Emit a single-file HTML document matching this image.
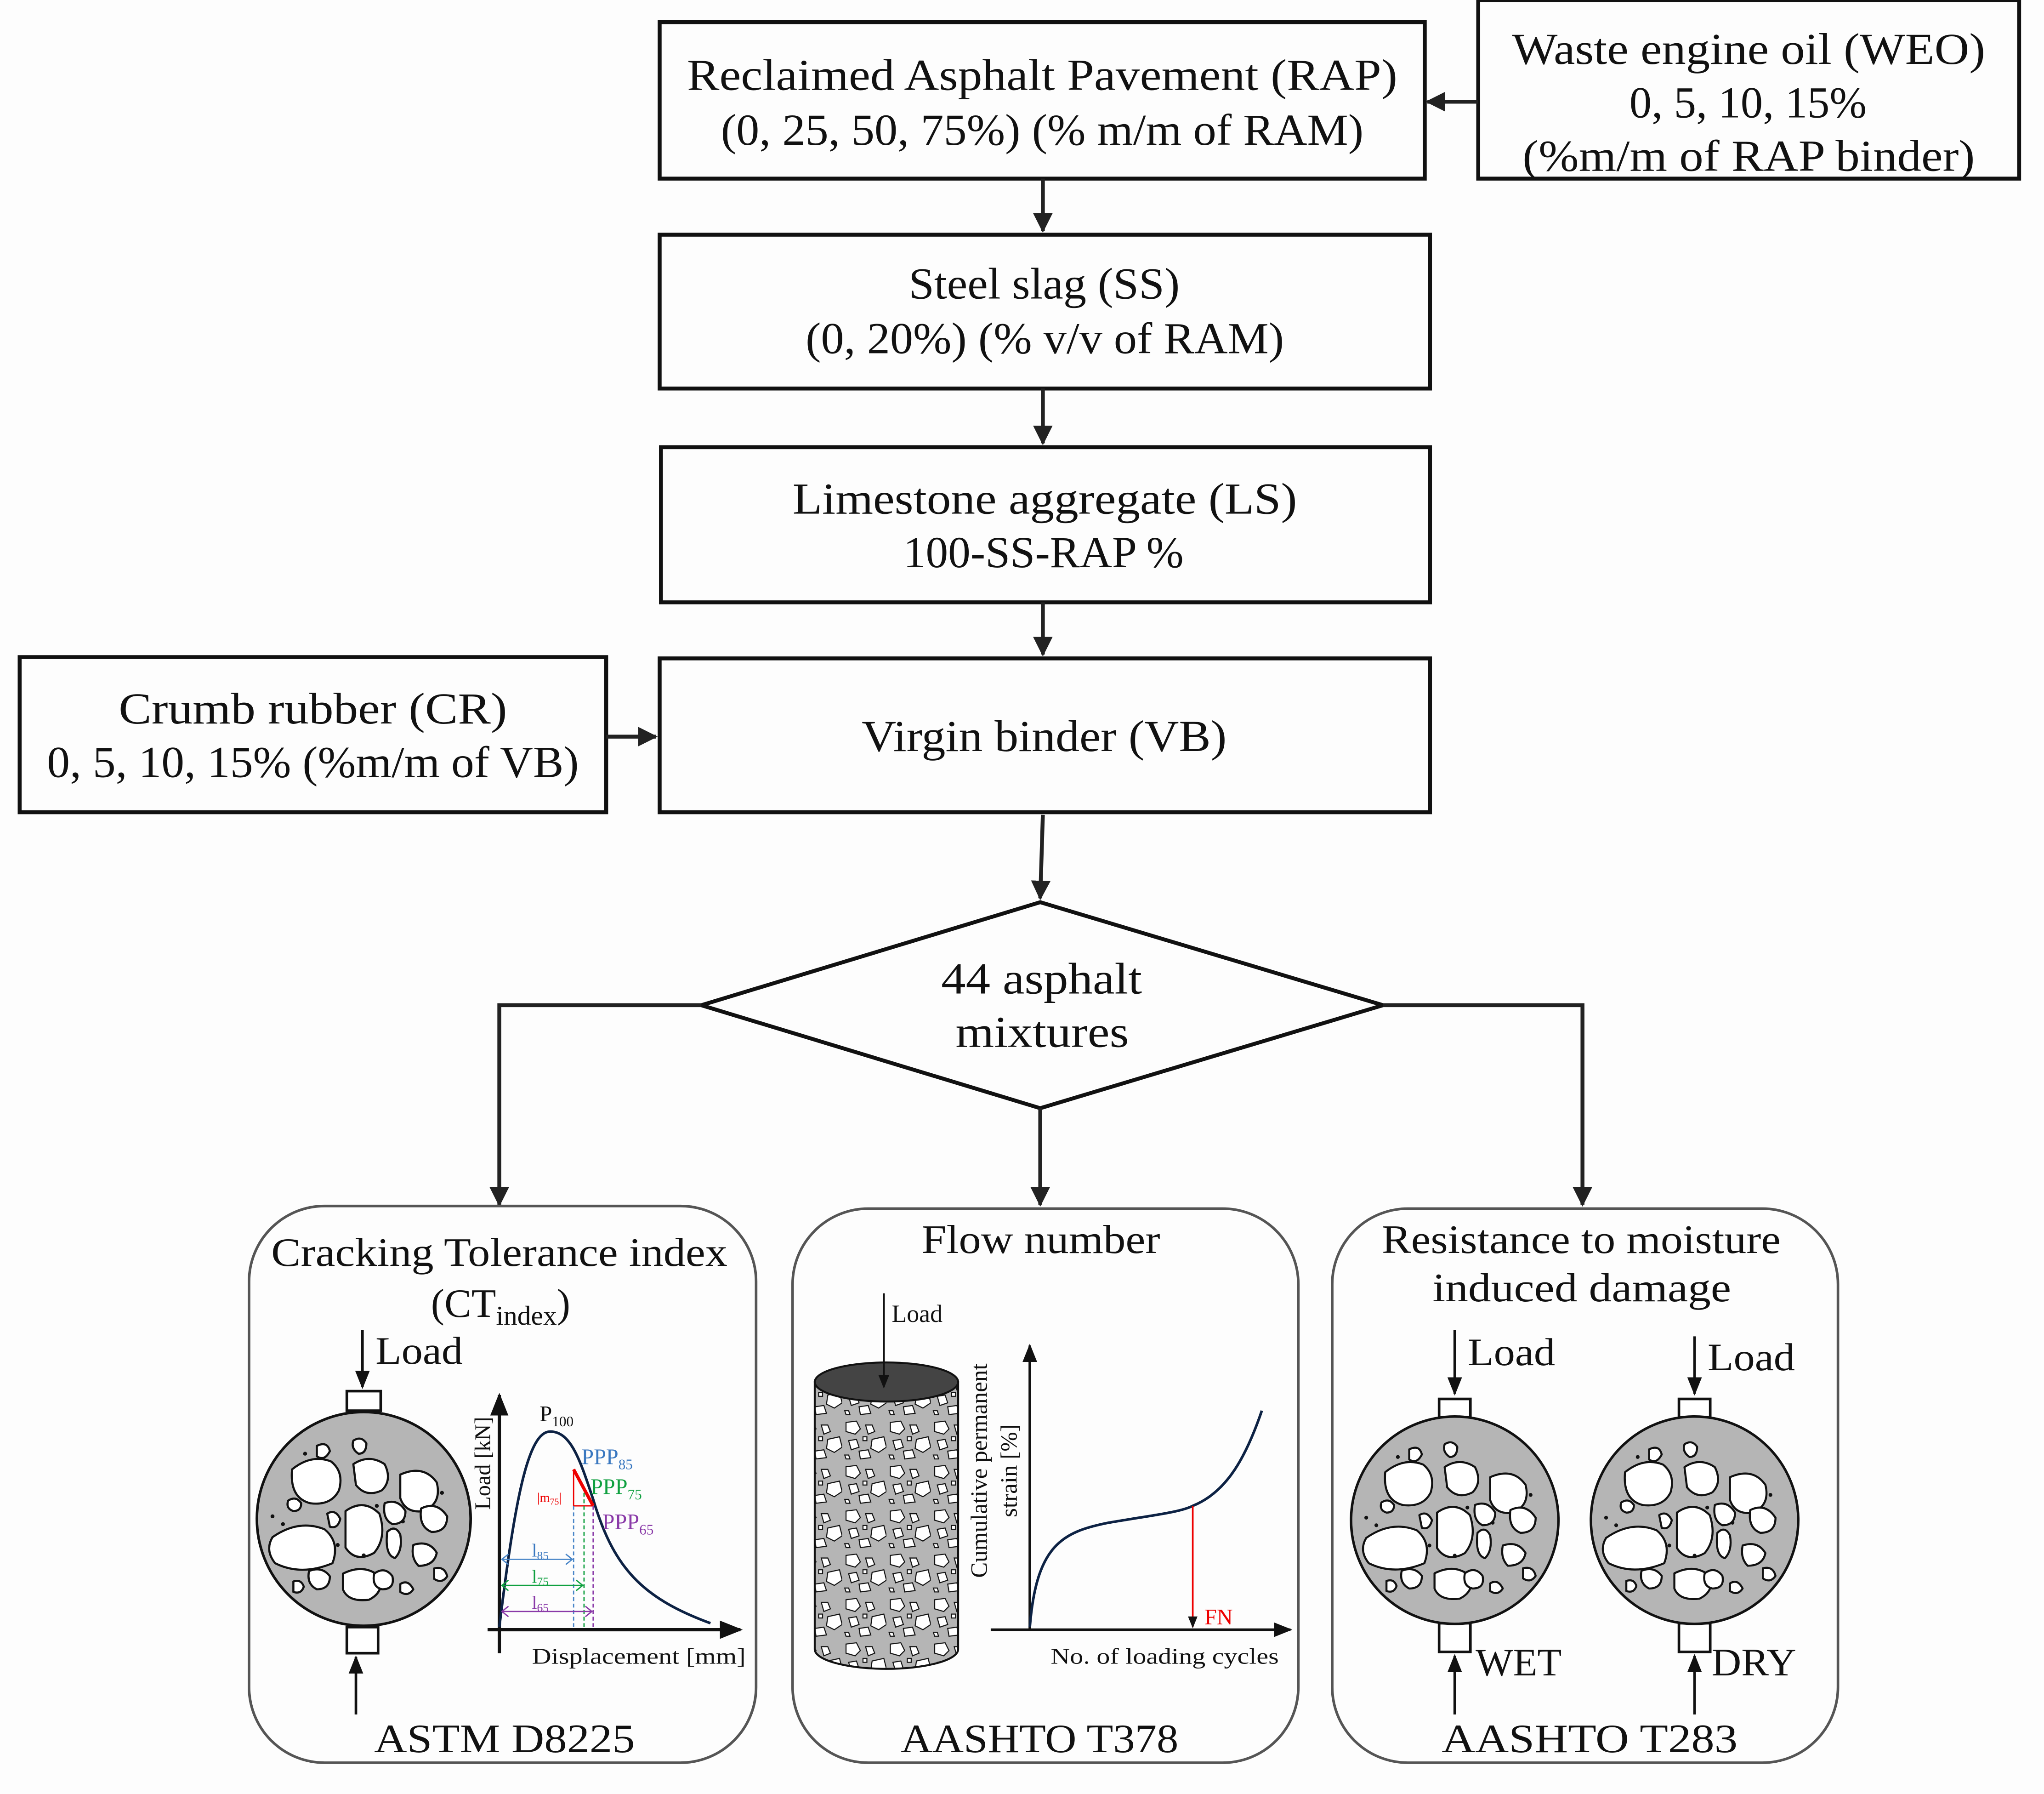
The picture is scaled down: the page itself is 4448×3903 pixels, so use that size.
<!DOCTYPE html>
<html><head><meta charset="utf-8"><style>html,body{margin:0;padding:0;background:#fdfdfd}svg{display:block}text{font-family:"Liberation Serif",serif;fill:#111}</style></head><body>
<svg width="4448" height="3903" viewBox="0 0 1568 1376" xmlns="http://www.w3.org/2000/svg">
<defs>
<marker id="ah" viewBox="0 0 10 10" refX="9" refY="5" markerWidth="5" markerHeight="5" orient="auto"><path d="M0,0 L10,5 L0,10 Z" fill="#222"/></marker>
<marker id="sa" viewBox="0 0 10 10" refX="9" refY="5" markerWidth="7" markerHeight="7" orient="auto"><path d="M0,1 L10,5 L0,9 Z" fill="#111"/></marker>
<g id="spec">
<circle cx="0" cy="0" r="82" fill="#b5b5b5" stroke="#111" stroke-width="2"/>
<g fill="#fff" stroke="#111" stroke-width="1.6" stroke-linejoin="round">
<path d="M-55,-38 q15,-12 30,-6 q10,8 6,22 q-6,12 -22,10 q-16,-4 -14,-26z"/>
<path d="M-8,-42 q12,-8 24,0 q6,12 -2,20 q-12,6 -20,-4z"/>
<path d="M28,-34 q18,-8 28,6 q4,16 -10,22 q-14,2 -18,-10z"/>
<path d="M-14,-6 q14,-10 26,2 q6,18 -4,30 q-14,8 -22,-4z"/>
<path d="M-70,14 q20,-14 40,-6 q12,10 6,26 q-24,10 -44,0 q-8,-10 -2,-20z"/>
<path d="M-16,42 q16,-8 28,2 q4,12 -8,18 q-16,2 -20,-8z"/>
<path d="M16,-12 q10,-4 16,6 q0,10 -10,10 q-8,-4 -6,-16z"/>
<path d="M44,-8 q12,-6 20,6 q0,12 -12,12 q-10,-4 -8,-18z"/>
<path d="M-42,40 q10,-4 16,4 q0,10 -10,10 q-8,-4 -6,-14z"/>
<path d="M-8,-60 q6,-4 10,2 q0,8 -6,8 q-6,-4 -4,-10z"/>
<path d="M38,20 q12,-4 18,6 q-2,10 -14,10 q-6,-6 -4,-16z"/>
<path d="M18,10 q6,-6 10,2 q2,12 -4,18 q-8,-2 -6,-20z"/>
<path d="M-58,-14 q6,-4 10,2 q0,6 -6,6 q-6,-2 -4,-8z"/>
<path d="M8,42 q8,-6 14,2 q2,10 -8,10 q-8,-2 -6,-12z"/>
<path d="M-28,-4 q6,-4 10,4 q-2,8 -8,6z"/>
<path d="M-54,48 q6,-2 8,4 q-2,6 -8,4z"/>
<path d="M54,38 q8,-2 10,6 q-4,6 -10,2z"/>
<path d="M-36,-56 q8,-4 10,4 q-4,8 -10,4z"/>
<path d="M28,50 q6,-4 10,4 q-4,6 -10,2z"/>
</g>
<g fill="#111"><circle cx="-70" cy="-2" r="1.5"/><circle cx="-20" cy="20" r="1.5"/><circle cx="10" cy="-10" r="1.5"/><circle cx="30" cy="2" r="1.5"/><circle cx="-62" cy="4" r="1.5"/><circle cx="0" cy="28" r="1.5"/><circle cx="-45" cy="-50" r="1.5"/><circle cx="60" cy="-20" r="1.5"/></g>
</g>
<pattern id="agg" width="34" height="34" patternUnits="userSpaceOnUse">
<rect width="34" height="34" fill="#b5b5b5"/>
<g fill="#fff" stroke="#111" stroke-width="0.8">
<path d="M3,3 l8,-1 l3,6 l-4,4 l-7,-2z"/><path d="M18,5 l5,0 l2,5 l-5,2z"/><path d="M23,16 l9,-2 l2,8 l-6,4 l-6,-3z"/><path d="M5,17 l6,-1 l2,6 l-6,2z"/><path d="M13,25 l7,-1 l2,6 l-8,1z"/><path d="M2,28 l3,0 l1,3 l-3,0z"/><path d="M16,14 l3,0 l0,3 l-3,0z"/>
</g></pattern>
</defs>
<rect width="1568" height="1376" fill="#fdfdfd"/>
<g fill="none" stroke="#111" stroke-width="3">
<rect x="506" y="17" width="587" height="120"/>
<rect x="1134" y="0" width="415" height="137"/>
<rect x="506" y="180" width="591" height="118"/>
<rect x="507" y="343" width="590" height="119"/>
<rect x="506" y="505" width="591" height="118"/>
<rect x="15" y="504" width="450" height="119"/>
<path d="M798,692 L1061,771 L798,850 L538,771 Z"/>
</g>
<g fill="none" stroke="#222" stroke-width="3" marker-end="url(#ah)">
<path d="M1134,78 L1095,78"/>
<path d="M800,137 L800,177"/>
<path d="M800,298 L800,340"/>
<path d="M800,462 L800,502"/>
<path d="M465,565 L503,565"/>
<path d="M800,625 L798,689"/>
<path d="M538,771 L383,771 L383,924"/>
<path d="M1061,771 L1214,771 L1214,924"/>
<path d="M798,850 L798,924"/>
</g>
<g font-size="34" lengthAdjust="spacingAndGlyphs">
<text x="527" y="69" textLength="545" lengthAdjust="spacingAndGlyphs">Reclaimed Asphalt Pavement (RAP)</text>
<text x="553" y="111" textLength="493" lengthAdjust="spacingAndGlyphs">(0, 25, 50, 75%) (% m/m of RAM)</text>
<text x="1160" y="49" textLength="363" lengthAdjust="spacingAndGlyphs">Waste engine oil (WEO)</text>
<text x="1250" y="90" textLength="182" lengthAdjust="spacingAndGlyphs">0, 5, 10, 15%</text>
<text x="1168" y="131" textLength="347" lengthAdjust="spacingAndGlyphs">(%m/m of RAP binder)</text>
<text x="697" y="229" textLength="208" lengthAdjust="spacingAndGlyphs">Steel slag (SS)</text>
<text x="618" y="271" textLength="367" lengthAdjust="spacingAndGlyphs">(0, 20%) (% v/v of RAM)</text>
<text x="608" y="394" textLength="387" lengthAdjust="spacingAndGlyphs">Limestone aggregate (LS)</text>
<text x="693" y="435" textLength="215" lengthAdjust="spacingAndGlyphs">100-SS-RAP %</text>
<text x="661" y="576" textLength="280" lengthAdjust="spacingAndGlyphs">Virgin binder (VB)</text>
<text x="91" y="555" textLength="298" lengthAdjust="spacingAndGlyphs">Crumb rubber (CR)</text>
<text x="36" y="596" textLength="408" lengthAdjust="spacingAndGlyphs">0, 5, 10, 15% (%m/m of VB)</text>
<text x="722" y="762" textLength="154" lengthAdjust="spacingAndGlyphs">44 asphalt</text>
<text x="733" y="803" textLength="133" lengthAdjust="spacingAndGlyphs">mixtures</text>
</g>
<g fill="none" stroke="#555" stroke-width="2">
<rect x="191" y="925" width="389" height="427" rx="58"/>
<rect x="608" y="927" width="388" height="425" rx="58"/>
<rect x="1022" y="927" width="388" height="425" rx="58"/>
</g>
<g font-size="31">
<text x="208" y="971" textLength="350" lengthAdjust="spacingAndGlyphs">Cracking Tolerance index</text>
<text x="384" y="1010" text-anchor="middle">(CT<tspan font-size="21" dy="6">index</tspan><tspan dy="-6">)</tspan></text>
<text x="287" y="1344" textLength="200" lengthAdjust="spacingAndGlyphs">ASTM D8225</text>
<text x="707" y="961" textLength="183" lengthAdjust="spacingAndGlyphs">Flow number</text>
<text x="691" y="1344" textLength="213" lengthAdjust="spacingAndGlyphs">AASHTO T378</text>
<text x="1060" y="961" textLength="306" lengthAdjust="spacingAndGlyphs">Resistance to moisture</text>
<text x="1099" y="998" textLength="229" lengthAdjust="spacingAndGlyphs">induced damage</text>
<text x="1106" y="1344" textLength="227" lengthAdjust="spacingAndGlyphs">AASHTO T283</text>
</g>
<g stroke="#111" stroke-width="2" fill="none">
<path d="M278,1020 L278,1064" marker-end="url(#sa)"/>
<rect x="266" y="1067" width="26" height="15" fill="#fff"/>
<rect x="266" y="1248" width="24" height="20" fill="#fff"/>
<path d="M273,1315 L273,1271" marker-end="url(#sa)"/>
</g>
<text x="288" y="1046" font-size="30" textLength="67" lengthAdjust="spacingAndGlyphs">Load</text>
<use href="#spec" x="279" y="1165"/>
<g fill="none">
<path d="M383,1268 L383,1070" stroke="#111" stroke-width="2.5" marker-end="url(#sa)"/>
<path d="M374,1250 L568,1250" stroke="#111" stroke-width="2.5" marker-end="url(#sa)"/>
<path d="M383,1248 C395,1150 405,1098 422,1098 C438,1098 445,1120 455,1150 C470,1200 490,1225 545,1245" stroke="#0d2244" stroke-width="2"/>
<path d="M440,1127 L455,1155" stroke="#e00" stroke-width="2.5"/>
<path d="M440,1127 L440,1155 L455,1155" stroke="#e00" stroke-width="1"/>
<path d="M440,1155 L440,1250" stroke="#4a86c8" stroke-width="1" stroke-dasharray="3,2"/>
<path d="M448,1145 L448,1250" stroke="#10a040" stroke-width="1" stroke-dasharray="3,2"/>
<path d="M455,1155 L455,1250" stroke="#8a3aa8" stroke-width="1" stroke-dasharray="3,2"/>
<path d="M385,1196 L439,1196 M390,1192 L385,1196 L390,1200 M434,1192 L439,1196 L434,1200" stroke="#4a86c8" stroke-width="1"/>
<path d="M385,1216 L447,1216 M390,1212 L385,1216 L390,1220 M442,1212 L447,1216 L442,1220" stroke="#10a040" stroke-width="1"/>
<path d="M385,1236 L454,1236 M390,1232 L385,1236 L390,1240 M449,1232 L454,1236 L449,1240" stroke="#8a3aa8" stroke-width="1"/>
</g>
<text font-size="17" transform="translate(376,1158) rotate(-90)">Load [kN]</text>
<text x="414" y="1090" font-size="17">P<tspan font-size="11" dy="4">100</tspan></text>
<text x="446" y="1123" font-size="17" style="fill:#3a78c0">PPP<tspan font-size="11" dy="4">85</tspan></text>
<text x="453" y="1146" font-size="17" style="fill:#10a040">PPP<tspan font-size="11" dy="4">75</tspan></text>
<text x="462" y="1173" font-size="17" style="fill:#8a3aa8">PPP<tspan font-size="11" dy="4">65</tspan></text>
<text x="412" y="1152" font-size="10" style="fill:#e00">|m<tspan font-size="7" dy="2">75</tspan><tspan dy="-2">|</tspan></text>
<text x="408" y="1194" font-size="14" style="fill:#3a78c0">l<tspan font-size="9" dy="2">85</tspan></text>
<text x="408" y="1214" font-size="14" style="fill:#10a040">l<tspan font-size="9" dy="2">75</tspan></text>
<text x="408" y="1234" font-size="14" style="fill:#8a3aa8">l<tspan font-size="9" dy="2">65</tspan></text>
<text x="408" y="1276" font-size="17" textLength="164" lengthAdjust="spacingAndGlyphs">Displacement [mm]</text>
<path d="M625,1060 L625,1265 A55,15 0 0 0 735,1265 L735,1060 Z" fill="url(#agg)" stroke="#111" stroke-width="1.5"/>
<ellipse cx="680" cy="1060" rx="55" ry="15" fill="#444" stroke="#111" stroke-width="1.5"/>
<path d="M678,992 L678,1064" stroke="#111" stroke-width="1.5" marker-end="url(#sa)"/>
<text x="684" y="1014" font-size="19">Load</text>
<g fill="none">
<path d="M790,1250 L790,1032" stroke="#111" stroke-width="2" marker-end="url(#sa)"/>
<path d="M760,1250 L990,1250" stroke="#111" stroke-width="2" marker-end="url(#sa)"/>
<path d="M790,1248 C795,1185 815,1175 850,1168 C885,1162 905,1160 915,1155 C940,1145 955,1120 968,1082" stroke="#0d2244" stroke-width="2"/>
<path d="M915,1155 L915,1248" stroke="#e00" stroke-width="1.3" marker-end="url(#sa)"/>
</g>
<text x="924" y="1246" font-size="17" style="fill:#e00">FN</text>
<text x="806" y="1276" font-size="17" textLength="175" lengthAdjust="spacingAndGlyphs">No. of loading cycles</text>
<text font-size="18" text-anchor="middle" transform="translate(757,1128) rotate(-90)">Cumulative permanent</text>
<text font-size="18" text-anchor="middle" transform="translate(780,1128) rotate(-90)">strain [%]</text>
<g stroke="#111" stroke-width="2" fill="none">
<path d="M1116,1020 L1116,1069" marker-end="url(#sa)"/>
<rect x="1104" y="1073" width="24" height="15" fill="#fff"/>
<rect x="1104" y="1245" width="24" height="22" fill="#fff"/>
<path d="M1116,1315 L1116,1270" marker-end="url(#sa)"/>
<path d="M1300,1025 L1300,1069" marker-end="url(#sa)"/>
<rect x="1288" y="1073" width="24" height="15" fill="#fff"/>
<rect x="1288" y="1245" width="24" height="22" fill="#fff"/>
<path d="M1300,1315 L1300,1270" marker-end="url(#sa)"/>
</g>
<use href="#spec" transform="translate(1116,1166) scale(0.97)"/>
<use href="#spec" transform="translate(1300,1166) scale(0.97)"/>
<text x="1126" y="1047" font-size="30" textLength="67" lengthAdjust="spacingAndGlyphs">Load</text>
<text x="1310" y="1051" font-size="30" textLength="67" lengthAdjust="spacingAndGlyphs">Load</text>
<text x="1132" y="1285" font-size="30" textLength="66" lengthAdjust="spacingAndGlyphs">WET</text>
<text x="1313" y="1285" font-size="30" textLength="65" lengthAdjust="spacingAndGlyphs">DRY</text>
</svg>
</body></html>
